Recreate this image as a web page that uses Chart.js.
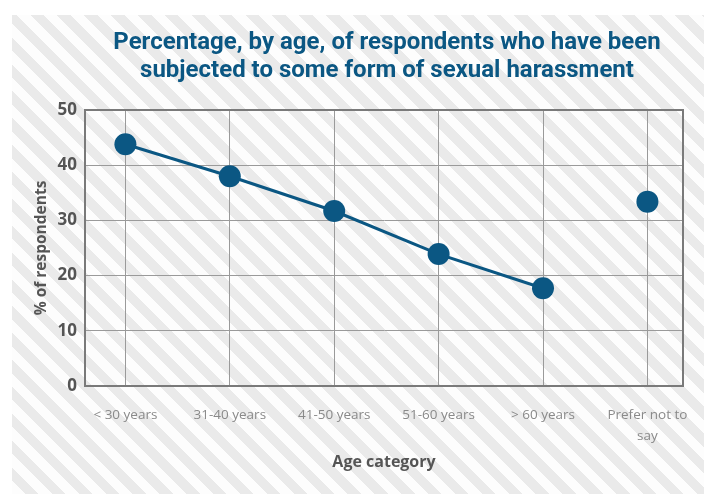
<!DOCTYPE html>
<html><head><meta charset="utf-8">
<script src="https://cdn.jsdelivr.net/npm/chart.js@4.4.1/dist/chart.umd.min.js"></script>
<style>
html,body{margin:0;padding:0;background:#fff;}
#wrap{position:relative;width:704px;height:494px;overflow:hidden;background:#fff;}
#bg{position:absolute;left:12px;top:15px;right:0;bottom:0;
 background:repeating-linear-gradient(45deg,#fdfdfd 0px,#fdfdfd 9.5px,#eaeaea 9.5px,#eaeaea 19px);}
canvas{position:absolute;left:0;top:0;}
</style></head>
<body><div id="wrap"><div id="bg"></div><canvas id="c" width="704" height="494"></canvas></div>
<script>
// ---- data ----
const titleLines = ['Percentage, by age, of respondents who have been', 'subjected to some form of sexual harassment'];
const categories = ['< 30 years', '31-40 years', '41-50 years', '51-60 years', '> 60 years', ['Prefer not to', 'say']];
const values = [43.8, 38.0, 31.7, 23.9, 17.7, 33.4];
const connected = [true, true, true, true, true, false]; // whether point joins the line from previous
const yTitle = '% of respondents';
const xTitle = 'Age category';
const yMin = 0, yMax = 50, yStep = 10;

const BLUE = '#0b5783';

const framePlugin = {
  id: 'frame',
  beforeDatasetsDraw(chart) {
    const {ctx, chartArea: a} = chart;
    ctx.save();
    ctx.strokeStyle = '#7a7a7a';
    ctx.lineWidth = 2;
    ctx.strokeRect(a.left, a.top, a.right - a.left, a.bottom - a.top);
    ctx.restore();
  }
};
const titlePlugin = {
  id: 'bigTitle',
  afterDraw(chart) {
    const {ctx, chartArea: a} = chart;
    ctx.save();
    ctx.fillStyle = BLUE;
    ctx.font = 'bold 24px Roboto, sans-serif';
    ctx.textAlign = 'center';
    ctx.textBaseline = 'middle';
    const cx = (a.left + a.right) / 2 + 3;
    titleLines.forEach((t, i) => ctx.fillText(t, cx, a.top - 67 + i * 28));
    ctx.restore();
  }
};

new Chart(document.getElementById('c'), {
  type: 'line',
  data: {
    datasets: [{
      data: values.map((v, i) => ({x: i, y: v})),
      borderColor: BLUE,
      backgroundColor: BLUE,
      borderWidth: 3,
      pointRadius: 11,
      pointBackgroundColor: BLUE,
      pointBorderWidth: 0,
      fill: false,
      segment: {
        borderColor: ctx => connected[ctx.p1DataIndex] ? BLUE : 'rgba(0,0,0,0)'
      }
    }]
  },
  options: {
    responsive: false,
    animation: false,
    devicePixelRatio: 1,
    layout: {padding: {left: 12, top: 110, right: 21, bottom: 0}},
    plugins: {legend: {display: false}, tooltip: {enabled: false}, title: {display: false}},
    scales: {
      x: {
        type: 'linear',
        min: -0.387, max: 5.341,
        afterFit: s => { s.height = 108; s.paddingLeft = 0; s.paddingRight = 0; },
        ticks: {
          stepSize: 1, includeBounds: false, autoSkip: false, maxRotation: 0,
          callback: v => Number.isInteger(v) ? categories[v] : '',
          color: '#8a8a8a',
          font: {family: '"Open Sans", sans-serif', size: 13.5, lineHeight: 1.55},
          padding: 19
        },
        grid: {color: '#9a9a9a', lineWidth: 1, drawTicks: false},
        border: {color: '#7a7a7a', width: 2},
        title: {display: true, text: xTitle, color: '#555',
          font: {family: '"Open Sans", sans-serif', size: 16, weight: 'bold'},
          padding: {top: 0, bottom: 22}}
      },
      y: {
        min: yMin, max: yMax,
        afterFit: s => { s.width = 73; },
        ticks: {stepSize: yStep, color: '#555',
          font: {family: '"Open Sans", sans-serif', size: 17, weight: 'bold'}, padding: 8},
        grid: {color: '#9a9a9a', lineWidth: 1, drawTicks: false},
        border: {color: '#7a7a7a', width: 2},
        title: {display: true, text: yTitle, color: '#555',
          font: {family: '"Open Sans", sans-serif', size: 15.5, weight: 'bold'},
          padding: {top: 20, bottom: 0}}
      }
    }
  },
  plugins: [framePlugin, titlePlugin]
});
</script>
</body></html>
